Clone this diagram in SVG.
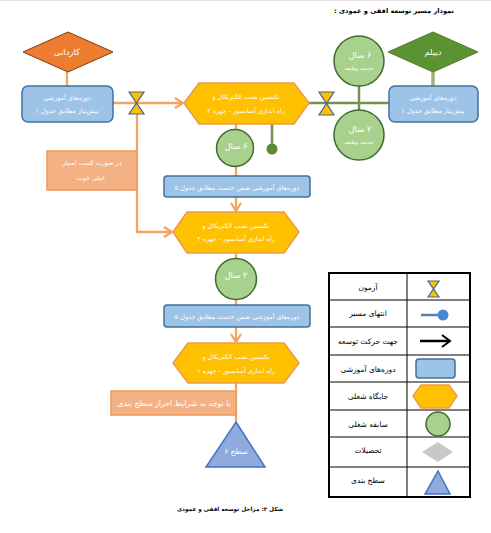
<svg xmlns="http://www.w3.org/2000/svg" width="491" height="533" viewBox="0 0 491 533">
<style>
text{font-family:"DejaVu Sans",sans-serif;text-anchor:middle;direction:rtl}
.w{fill:#fff;font-size:6.4px}
.k{fill:#000;font-size:7.5px}
.t{fill:#000;font-size:6.6px;font-weight:bold}
.c{fill:#000;font-size:5.7px;font-weight:bold}
.y{fill:#fff;font-size:8.5px}
.s{fill:#fff;font-size:5.2px}
.box{fill:#9DC3E6;stroke:#41719C;stroke-width:1.5}
.hex{fill:#FFC000;stroke:#ED9A4F;stroke-width:1.5}
.job{fill:#A9D18E;stroke:#3F6B2E;stroke-width:1.5}
.sal{fill:#F4B183;stroke:#ED9A5C;stroke-width:1.5}
.tri{fill:#8FAADC;stroke:#4472C4;stroke-width:1.5}
.o{fill:none;stroke:#F4A460;stroke-width:2.3}
.g{fill:none;stroke:#74904C;stroke-width:2.5}
.hg{fill:#FFC000;stroke:#44688C;stroke-width:1.2}
.cell{fill:none;stroke:#000;stroke-width:1}
</style>
<defs>
<marker id="oa" markerUnits="userSpaceOnUse" markerWidth="12" markerHeight="12" refX="10" refY="6" orient="auto"><path d="M2 1L10 6L2 11" fill="none" stroke="#F4A460" stroke-width="2.3"/></marker>
<marker id="ka" markerUnits="userSpaceOnUse" markerWidth="14" markerHeight="14" refX="11" refY="7" orient="auto"><path d="M3 1L11 7L3 13" fill="none" stroke="#000" stroke-width="2"/></marker>
</defs>
<rect x="0" y="0" width="491" height="1" fill="#e4e4e4"/>
<text class="t" x="394" y="13">نمودار مسیر توسعه افقی و عمودی :</text>
<g id="connectors">
<path class="o" d="M67 72V86"/>
<path class="o" d="M113 103H183" marker-end="url(#oa)"/>
<path class="o" d="M137 114V232H172" marker-end="url(#oa)"/>
<path class="o" d="M236 124V176"/>
<path class="o" d="M236 197V211" marker-end="url(#oa)"/>
<path class="o" d="M236 253V305"/>
<path class="o" d="M236 327V342" marker-end="url(#oa)"/>
<path class="o" d="M236 383V422"/>
<path class="g" d="M309 103H389"/>
<path class="g" d="M359 86V110"/>
<path class="g" d="M272 124V149"/>
<path d="M433 72V86" fill="none" stroke="#A0AE80" stroke-width="3.5"/>
</g>
<g id="kardani"><path d="M23 52L68 32L113 52L68 72Z" fill="#ED7D31" stroke="#843C0C" stroke-width="1"/><text class="w" x="67" y="55" style="font-size:8.5px">کاردانی</text></g>
<g id="diplom"><path d="M388 52L433 32L478 52L433 72Z" fill="#5B9232" stroke="#4E7F2A" stroke-width="1"/><text class="w" x="433" y="55" style="font-size:8.5px">دیپلم</text></g>
<g id="box-left"><rect class="box" x="22" y="86" width="91" height="36" rx="6"/><text class="w" x="67" y="100">دوره‌های آموزشی</text><text class="w" x="67" y="113">پیش‌نیاز مطابق جدول ۱</text></g>
<g id="box-right"><rect class="box" x="389" y="86" width="89" height="36" rx="6"/><text class="w" x="433" y="100">دوره‌های آموزشی</text><text class="w" x="433" y="113">پیش‌نیاز مطابق جدول ۱</text></g>
<g id="test-left"><path class="hg" d="M129 92H144L129 114H144Z"/></g>
<g id="test-right"><path class="hg" d="M319 92H334L319 115H334Z"/></g>
<g id="salmon-1"><rect class="sal" x="47" y="151" width="90" height="39"/><text class="w" x="92" y="165">در صورت کسب امتیاز</text><text class="w" x="91" y="180">خیلی خوب</text></g>
<g id="hex-1"><path class="hex" d="M184 103L199 83H294L309 103L294 124H199Z"/><text class="w" x="246" y="99">تکنسین نصب الکتریکال و</text><text class="w" x="246" y="113">راه اندازی آسانسور - چهره ۲</text></g>
<g id="circle-6a"><circle class="job" cx="359" cy="61" r="25"/><text class="y" x="360" y="58">۶ سال</text><text class="s" x="359" y="70">خدمت وظیفه</text></g>
<g id="circle-2a"><circle class="job" cx="359" cy="135" r="25"/><text class="y" x="360" y="132">۲ سال</text><text class="s" x="359" y="144">خدمت وظیفه</text></g>
<g id="circle-6b"><circle class="job" cx="235" cy="148" r="18.5"/><text class="y" x="236" y="149">۶ سال</text></g>
<g id="dot"><circle cx="272" cy="149" r="5.5" fill="#5F8A35"/></g>
<g id="box-2"><rect class="box" x="164" y="176" width="146" height="21" rx="3"/><text class="w" x="237" y="190">دوره‌های آموزشی ضمن خدمت مطابق جدول ۵</text></g>
<g id="hex-2"><path class="hex" d="M173 232L187 212H284L299 232L284 253H187Z"/><text class="w" x="236" y="228">تکنسین نصب الکتریکال و</text><text class="w" x="236" y="241">راه اندازی آسانسور - چهره ۲</text></g>
<g id="circle-2b"><circle class="job" cx="236" cy="279" r="20.5"/><text class="y" x="236" y="278">۲ سال</text></g>
<g id="box-3"><rect class="box" x="164" y="305" width="146" height="22" rx="3"/><text class="w" x="237" y="319">دوره‌های آموزشی ضمن خدمت مطابق جدول ۵</text></g>
<g id="hex-3"><path class="hex" d="M173 363L188 343H284L299 363L284 383H188Z"/><text class="w" x="236" y="359">تکنسین نصب الکتریکال و</text><text class="w" x="236" y="373">راه اندازی آسانسور - چهره ۱</text></g>
<g id="salmon-2"><rect class="sal" x="111" y="391" width="125" height="24"/><text class="w" x="174" y="406" style="font-size:7.8px">با توجه به شرایط احراز سطح بندی</text></g>
<g id="level"><path class="tri" d="M236 422L265 467H206Z"/><text class="w" x="236" y="454" style="font-size:7.5px">سطح ۶</text></g>
<text class="c" x="230" y="511">شکل ۲: مراحل توسعه افقی و عمودی</text>
<g id="legend">
<rect x="329" y="273" width="141" height="224" fill="#fff" stroke="#000" stroke-width="2"/>
<path class="cell" d="M407 273V497M329 300H470M329 327H470M329 355H470M329 382H470M329 410H470M329 437H470M329 467H470"/>
<g id="legend-test"><path class="hg" d="M428 281H439L428 297H439Z"/><text class="k" x="368" y="290">آزمون</text></g>
<g id="legend-end"><path d="M421 315H441" stroke="#5F7FB0" stroke-width="2.5" fill="none"/><circle cx="443" cy="315" r="5.5" fill="#4A86D8"/><text class="k" x="368" y="316">انتهای مسیر</text></g>
<g id="legend-arrow"><path d="M420 341H450" stroke="#000" stroke-width="2.5" fill="none" marker-end="url(#ka)"/><text class="k" x="368" y="344">جهت حرکت توسعه</text></g>
<g id="legend-box"><rect class="box" x="416" y="359" width="39" height="19" rx="3"/><text class="k" x="368" y="372">دوره‌های آموزشی</text></g>
<g id="legend-hex"><path class="hex" d="M413 396L421 385H449L457 396L449 408H421Z"/><text class="k" x="368" y="399">جایگاه شغلی</text></g>
<g id="legend-job"><circle class="job" cx="438" cy="424" r="12"/><text class="k" x="368" y="427">سابقه شغلی</text></g>
<g id="legend-edu"><path d="M422 452L438 442L453 452L438 462Z" fill="#C8C8C8"/><text class="k" x="368" y="453">تحصیلات</text></g>
<g id="legend-level"><path class="tri" d="M438 471L450 494H425Z"/><text class="k" x="368" y="483">سطح بندی</text></g>
</g>
</svg>
